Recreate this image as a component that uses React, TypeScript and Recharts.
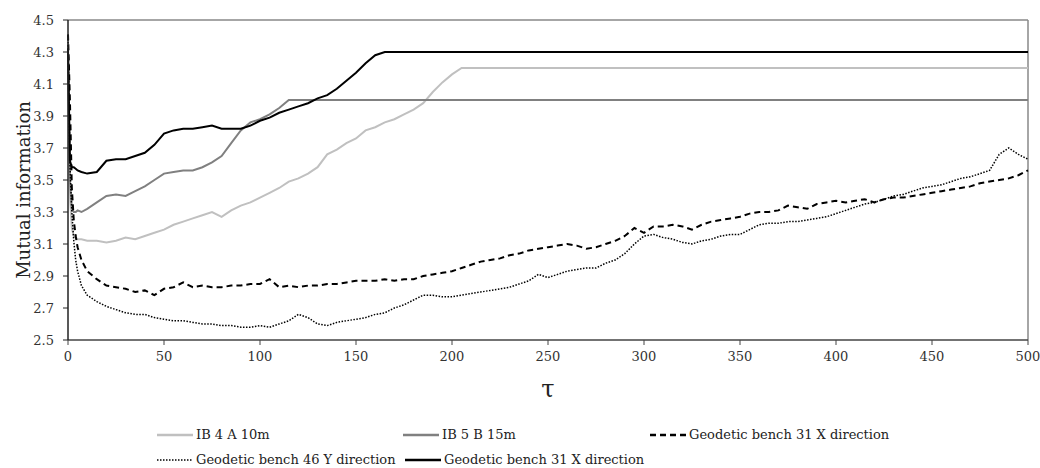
import {
  LineChart,
  Line,
  XAxis,
  YAxis,
  ReferenceLine,
  Legend,
} from "recharts";

// #region Mutual information data
export const tau = [
  0, 1, 2, 3, 4, 5, 7, 10,
  15, 20, 25, 30, 35, 40, 45, 50, 55, 60,
  65, 70, 75, 80, 85, 90, 95, 100, 105, 110,
  115, 120, 125, 130, 135, 140, 145, 150, 155, 160,
  165, 170, 175, 180, 185, 190, 195, 200, 205, 210,
  215, 220, 225, 230, 235, 240, 245, 250, 255, 260,
  265, 270, 275, 280, 285, 290, 295, 300, 305, 310,
  315, 320, 325, 330, 335, 340, 345, 350, 355, 360,
  365, 370, 375, 380, 385, 390, 395, 400, 405, 410,
  415, 420, 425, 430, 435, 440, 445, 450, 455, 460,
  465, 470, 475, 480, 485, 490, 495, 500,
];

export const ib4a10m = [
  4.2, 3.4, 3.2, 3.15, 3.14, 3.13, 3.13, 3.12,
  3.12, 3.11, 3.12, 3.14, 3.13, 3.15, 3.17, 3.19, 3.22, 3.24,
  3.26, 3.28, 3.3, 3.27, 3.31, 3.34, 3.36, 3.39, 3.42, 3.45,
  3.49, 3.51, 3.54, 3.58, 3.66, 3.69, 3.73, 3.76, 3.81, 3.83,
  3.86, 3.88, 3.91, 3.94, 3.98, 4.05, 4.11, 4.16, 4.2, 4.2,
  4.2, 4.2, 4.2, 4.2, 4.2, 4.2, 4.2, 4.2, 4.2, 4.2,
  4.2, 4.2, 4.2, 4.2, 4.2, 4.2, 4.2, 4.2, 4.2, 4.2,
  4.2, 4.2, 4.2, 4.2, 4.2, 4.2, 4.2, 4.2, 4.2, 4.2,
  4.2, 4.2, 4.2, 4.2, 4.2, 4.2, 4.2, 4.2, 4.2, 4.2,
  4.2, 4.2, 4.2, 4.2, 4.2, 4.2, 4.2, 4.2, 4.2, 4.2,
  4.2, 4.2, 4.2, 4.2, 4.2, 4.2, 4.2, 4.2,
];

export const ib5b15m = [
  4.3, 3.5, 3.32, 3.3, 3.3, 3.31, 3.3, 3.32,
  3.36, 3.4, 3.41, 3.4, 3.43, 3.46, 3.5, 3.54, 3.55, 3.56,
  3.56, 3.58, 3.61, 3.65, 3.73, 3.81, 3.86, 3.88, 3.91, 3.95,
  4.0, 4.0, 4.0, 4.0, 4.0, 4.0, 4.0, 4.0, 4.0, 4.0,
  4.0, 4.0, 4.0, 4.0, 4.0, 4.0, 4.0, 4.0, 4.0, 4.0,
  4.0, 4.0, 4.0, 4.0, 4.0, 4.0, 4.0, 4.0, 4.0, 4.0,
  4.0, 4.0, 4.0, 4.0, 4.0, 4.0, 4.0, 4.0, 4.0, 4.0,
  4.0, 4.0, 4.0, 4.0, 4.0, 4.0, 4.0, 4.0, 4.0, 4.0,
  4.0, 4.0, 4.0, 4.0, 4.0, 4.0, 4.0, 4.0, 4.0, 4.0,
  4.0, 4.0, 4.0, 4.0, 4.0, 4.0, 4.0, 4.0, 4.0, 4.0,
  4.0, 4.0, 4.0, 4.0, 4.0, 4.0, 4.0, 4.0,
];

export const bench31xDashed = [
  4.41, 4.0, 3.45, 3.25, 3.15, 3.08, 3.0, 2.93,
  2.88, 2.84, 2.83, 2.82, 2.8, 2.81, 2.78, 2.82, 2.83, 2.86,
  2.83, 2.84, 2.83, 2.83, 2.84, 2.84, 2.85, 2.85, 2.88, 2.83,
  2.84, 2.83, 2.84, 2.84, 2.85, 2.85, 2.86, 2.87, 2.87, 2.87,
  2.88, 2.87, 2.88, 2.88, 2.9, 2.91, 2.92, 2.93, 2.95, 2.97,
  2.99, 3.0, 3.01, 3.03, 3.04, 3.06, 3.07, 3.08, 3.09, 3.1,
  3.09, 3.07, 3.08, 3.1, 3.12, 3.15, 3.2, 3.17, 3.21, 3.21,
  3.22, 3.21, 3.19, 3.22, 3.24, 3.25, 3.26, 3.27, 3.29, 3.3,
  3.3, 3.31, 3.34, 3.33, 3.32, 3.35, 3.36, 3.37, 3.36, 3.37,
  3.38, 3.36, 3.38, 3.39, 3.39, 3.4, 3.41, 3.42, 3.43, 3.44,
  3.45, 3.46, 3.48, 3.49, 3.5, 3.51, 3.53, 3.56,
];

export const bench46y = [
  4.4, 3.6, 3.3, 3.12, 3.0, 2.93, 2.84, 2.78,
  2.74, 2.71, 2.69, 2.67, 2.66, 2.66, 2.64, 2.63, 2.62, 2.62,
  2.61, 2.6, 2.6, 2.59, 2.59, 2.58, 2.58, 2.59, 2.58, 2.6,
  2.62, 2.66, 2.64, 2.6, 2.59, 2.61, 2.62, 2.63, 2.64, 2.66,
  2.67, 2.7, 2.72, 2.75, 2.78, 2.78, 2.77, 2.77, 2.78, 2.79,
  2.8, 2.81, 2.82, 2.83, 2.85, 2.87, 2.91, 2.89, 2.91, 2.93,
  2.94, 2.95, 2.95, 2.98, 3.0, 3.04, 3.1, 3.15, 3.16, 3.14,
  3.13, 3.11, 3.1, 3.12, 3.13, 3.15, 3.16, 3.16, 3.19, 3.22,
  3.23, 3.23, 3.24, 3.24, 3.25, 3.26, 3.27, 3.29, 3.31, 3.33,
  3.35, 3.36, 3.38, 3.4, 3.41, 3.43, 3.45, 3.46, 3.47, 3.49,
  3.51, 3.52, 3.54, 3.56, 3.66, 3.7, 3.66, 3.63,
];

export const bench31xSolid = [
  4.32, 3.62, 3.58, 3.58, 3.57, 3.56, 3.55, 3.54,
  3.55, 3.62, 3.63, 3.63, 3.65, 3.67, 3.72, 3.79, 3.81, 3.82,
  3.82, 3.83, 3.84, 3.82, 3.82, 3.82, 3.84, 3.87, 3.89, 3.92,
  3.94, 3.96, 3.98, 4.01, 4.03, 4.07, 4.12, 4.17, 4.23, 4.28,
  4.3, 4.3, 4.3, 4.3, 4.3, 4.3, 4.3, 4.3, 4.3, 4.3,
  4.3, 4.3, 4.3, 4.3, 4.3, 4.3, 4.3, 4.3, 4.3, 4.3,
  4.3, 4.3, 4.3, 4.3, 4.3, 4.3, 4.3, 4.3, 4.3, 4.3,
  4.3, 4.3, 4.3, 4.3, 4.3, 4.3, 4.3, 4.3, 4.3, 4.3,
  4.3, 4.3, 4.3, 4.3, 4.3, 4.3, 4.3, 4.3, 4.3, 4.3,
  4.3, 4.3, 4.3, 4.3, 4.3, 4.3, 4.3, 4.3, 4.3, 4.3,
  4.3, 4.3, 4.3, 4.3, 4.3, 4.3, 4.3, 4.3,
];

export const xTicks = [0, 50, 100, 150, 200, 250, 300, 350, 400, 450, 500];
export const yTicks = [2.5, 2.7, 2.9, 3.1, 3.3, 3.5, 3.7, 3.9, 4.1, 4.3, 4.5];
// #endregion

const chartData = tau.map((t, i) => ({
  tau: t,
  ib4a: ib4a10m[i],
  ib5b: ib5b15m[i],
  b31dash: bench31xDashed[i],
  b46: bench46y[i],
  b31solid: bench31xSolid[i],
}));

const FONT = "DejaVu Serif";

const legendItems = [
  { name: "IB 4 A 10m", color: "#c0c0c0", dash: undefined, width: 2.5, left: 157, top: 0 },
  { name: "IB 5 B 15m", color: "#808080", dash: undefined, width: 2.5, left: 403, top: 0 },
  { name: "Geodetic bench 31 X direction", color: "#000", dash: "6 4", width: 2.5, left: 650, top: 0 },
  { name: "Geodetic bench 46 Y direction", color: "#000", dash: "1.5 1.5", width: 1.5, left: 157, top: 25 },
  { name: "Geodetic bench 31 X direction", color: "#000", dash: undefined, width: 2.5, left: 405, top: 25 },
];

const renderLegend = () => (
  <div style={{ position: "relative", width: 1028, height: 68, fontFamily: FONT }}>
    {legendItems.map((item, i) => (
      <div
        key={i}
        style={{
          position: "absolute",
          left: item.left,
          top: 22 + item.top,
          height: 25,
          display: "flex",
          alignItems: "center",
          whiteSpace: "nowrap",
          fontSize: 13,
          color: "#222",
        }}
      >
        <svg width={36} height={10} style={{ marginRight: 3 }}>
          <line
            x1={0}
            y1={5}
            x2={36}
            y2={5}
            stroke={item.color}
            strokeWidth={item.width}
            strokeDasharray={item.dash}
          />
        </svg>
        <span>{item.name}</span>
      </div>
    ))}
  </div>
);

const YLabel = () => (
  <text
    x={23}
    y={190}
    transform="rotate(-90 23 190)"
    textAnchor="middle"
    dominantBaseline="central"
    fontFamily={FONT}
    fontSize={18}
    fill="#222"
  >
    Mutual information
  </text>
);

const XLabel = () => (
  <text
    x={548}
    y={389}
    textAnchor="middle"
    dominantBaseline="central"
    fontFamily={FONT}
    fontSize={24}
    fill="#222"
  >
    τ
  </text>
);

const MutualInformationChart = () => {
  return (
    <div
      style={{
        position: "absolute",
        left: 0,
        top: 0,
        width: 1040,
        height: 468,
        background: "#fff",
        fontFamily: FONT,
      }}
    >
      <LineChart
        width={1040}
        height={468}
        data={chartData}
        margin={{ top: 20, right: 12, left: 0, bottom: 0 }}
        style={{ fontFamily: FONT }}
      >
        <XAxis
          dataKey='tau'
          type='number'
          domain={[0, 500]}
          ticks={xTicks}
          interval={0}
          height={60}
          tickSize={5}
          tickMargin={7}
          axisLine={{ stroke: "#444", strokeWidth: 1.5 }}
          tickLine={{ stroke: "#444" }}
          tick={{ fontFamily: FONT, fontSize: 13, fill: "#333" }}
          label={<XLabel />}
        />
        <YAxis
          type='number'
          domain={[2.5, 4.5]}
          ticks={yTicks}
          interval={0}
          width={68}
          tickSize={5}
          tickMargin={9}
          tickFormatter={(v) => Number(v).toFixed(1)}
          axisLine={{ stroke: "#222", strokeWidth: 1.5 }}
          tickLine={{ stroke: "#222" }}
          tick={{ fontFamily: FONT, fontSize: 13, fill: "#333" }}
          label={<YLabel />}
        />
        <ReferenceLine y={4.5} stroke='#888' strokeWidth={1.5} />
        <ReferenceLine x={500} stroke='#888' strokeWidth={1.5} />
        <Legend content={renderLegend} verticalAlign='bottom' />
        <Line
          dataKey='ib4a'
          name='IB 4 A 10m'
          stroke='#c0c0c0'
          strokeWidth={2}
          dot={false}
          type='linear'
          isAnimationActive={false}
        />
        <Line
          dataKey='ib5b'
          name='IB 5 B 15m'
          stroke='#808080'
          strokeWidth={2}
          dot={false}
          type='linear'
          isAnimationActive={false}
        />
        <Line
          dataKey='b31dash'
          name='Geodetic bench 31 X direction'
          stroke='#000'
          strokeWidth={2}
          strokeDasharray='6 4'
          dot={false}
          type='linear'
          isAnimationActive={false}
        />
        <Line
          dataKey='b46'
          name='Geodetic bench 46 Y direction'
          stroke='#000'
          strokeWidth={1.5}
          strokeDasharray='1.5 1.5'
          dot={false}
          type='linear'
          isAnimationActive={false}
        />
        <Line
          dataKey='b31solid'
          name='Geodetic bench 31 X direction'
          stroke='#000'
          strokeWidth={2}
          dot={false}
          type='linear'
          isAnimationActive={false}
        />
      </LineChart>
    </div>
  );
};

export default function App() {
  return <MutualInformationChart />;
}
